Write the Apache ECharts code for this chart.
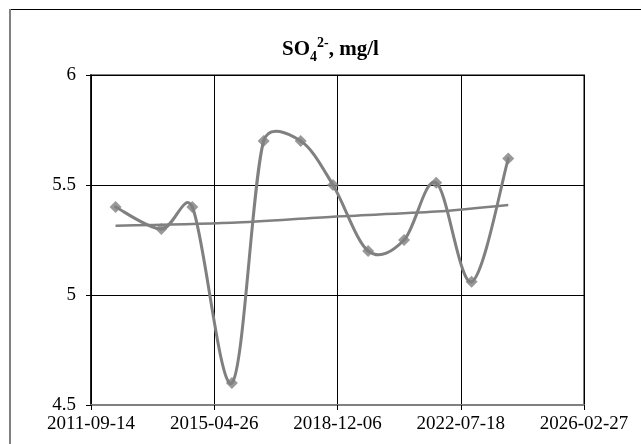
<!DOCTYPE html>
<html>
<head>
<meta charset="utf-8">
<script src="https://cdn.jsdelivr.net/npm/echarts@6/dist/echarts.min.js"></script>
<style>
html,body{margin:0;padding:0;background:#fff;}
#chart{width:641px;height:444px;}
</style>
</head>
<body>
<div id="chart"></div>
<script>
// Sample dates and SO4 2- concentrations (mg/l)
var sampleDates = ['2012-06-03','2013-10-06','2014-09-03','2015-11-01','2016-10-06','2017-11-07',
                   '2018-10-19','2019-10-30','2020-11-18','2021-10-28','2022-11-11','2023-12-09'];
var so4Values = [5.40, 5.30, 5.40, 4.60, 5.70, 5.70, 5.50, 5.20, 5.25, 5.51, 5.06, 5.62];
// Trend line
var trendDates = ['2012-06-03','2015-11-01','2018-10-19','2021-10-28','2023-12-09'];
var trendValues = [5.315, 5.328, 5.356, 5.379, 5.409];
// Axis
var axisStart = '2011-09-14';
var axisTickDays = 1320;
var axisTickCount = 4;
var yTicks = [4.5, 5, 5.5, 6];

var DAY = 86400000;
function toMs(s){ var p = s.split('-'); return Date.UTC(+p[0], +p[1]-1, +p[2]); }
var base = toMs(axisStart);
function toOffset(s){ return Math.round((toMs(s) - base) / DAY); }
function fmt(off){
  var d = new Date(base + off * DAY);
  var m = d.getUTCMonth()+1, dd = d.getUTCDate();
  return d.getUTCFullYear() + '-' + (m<10?'0':'') + m + '-' + (dd<10?'0':'') + dd;
}
var mainData = sampleDates.map(function(d,i){ return [toOffset(d), so4Values[i]]; });
var trendData = trendDates.map(function(d,i){ return [toOffset(d), trendValues[i]]; });

// Excel-like smoothed segment (Bezier with 1/6 tangents, limited by segment length)
function clampVec(v, maxLen){
  var L = Math.sqrt(v[0]*v[0] + v[1]*v[1]);
  if (L > maxLen && L > 0) { var s = maxLen / L; return [v[0]*s, v[1]*s]; }
  return v;
}
function segmentRender(params, api){
  var i = params.dataIndex;
  if (i >= mainData.length - 1) return null;
  var P = function(k){
    k = Math.max(0, Math.min(mainData.length - 1, k));
    return api.coord(mainData[k]);
  };
  var p0 = P(i-1), p1 = P(i), p2 = P(i+1), p3 = P(i+2);
  var seg = Math.sqrt(Math.pow(p2[0]-p1[0],2) + Math.pow(p2[1]-p1[1],2));
  var t1 = clampVec([(p2[0]-p0[0])/6, (p2[1]-p0[1])/6], seg*0.5);
  var t2 = clampVec([(p3[0]-p1[0])/6, (p3[1]-p1[1])/6], seg*0.5);
  return {
    type: 'bezierCurve',
    shape: {x1: p1[0], y1: p1[1], x2: p2[0], y2: p2[1],
            cpx1: p1[0]+t1[0], cpy1: p1[1]+t1[1], cpx2: p2[0]-t2[0], cpy2: p2[1]-t2[1]},
    style: {stroke: '#808080', lineWidth: 3, fill: null, lineCap: 'round'}
  };
}

var chart = echarts.init(document.getElementById('chart'), null, {renderer:'canvas'});
var serif = '"Liberation Serif", "Times New Roman", serif';
chart.setOption({
  animation: false,
  backgroundColor: '#fff',
  title: {
    text: '{m|SO}{sub|4}{sup|2-}{m|, mg/l}',
    left: 277, top: 31,
    textStyle: {
      rich: {
        m: {fontFamily: serif, fontWeight: 'bold', fontSize: 21, color: '#000', lineHeight: 28, verticalAlign: 'middle'},
        sub: {fontFamily: serif, fontWeight: 'bold', fontSize: 14, color: '#000', lineHeight: 14, verticalAlign: 'bottom'},
        sup: {fontFamily: serif, fontWeight: 'bold', fontSize: 14, color: '#000', lineHeight: 14, verticalAlign: 'top'}
      }
    }
  },
  graphic: [
    {type: 'line', shape: {x1: 9, y1: 9.5, x2: 641, y2: 9.5}, style: {stroke: '#000', lineWidth: 1}, z: 10},
    {type: 'line', shape: {x1: 10, y1: 9, x2: 10, y2: 444}, style: {stroke: '#808080', lineWidth: 2}, z: 10}
  ],
  grid: {left: 91, top: 75, width: 493, height: 330, show: true, borderColor: '#808080', borderWidth: 2, containLabel: false},
  xAxis: {
    type: 'value', min: 0, max: axisTickDays * axisTickCount, interval: axisTickDays,
    axisLine: {show: true, lineStyle: {color: '#808080', width: 2}},
    axisTick: {show: true, inside: false, length: 5, lineStyle: {color: '#000', width: 1}},
    splitLine: {show: true, lineStyle: {color: '#000', width: 1}},
    axisLabel: {fontFamily: serif, fontSize: 19, color: '#000', margin: 10, formatter: function(v){ return fmt(v); }, showMinLabel: true, showMaxLabel: true}
  },
  yAxis: {
    type: 'value', min: yTicks[0], max: yTicks[yTicks.length-1], interval: 0.5,
    axisLine: {show: true, lineStyle: {color: '#000', width: 1.5}},
    axisTick: {show: true, inside: false, length: 5, lineStyle: {color: '#000', width: 1}},
    splitLine: {show: true, lineStyle: {color: '#000', width: 1}},
    axisLabel: {fontFamily: serif, fontSize: 19, color: '#000', margin: 15, formatter: function(v){ return String(v); }}
  },
  series: [
    {
      type: 'custom', data: mainData, renderItem: segmentRender,
      encode: {x: 0, y: 1}, clip: true, z: 3, silent: true
    },
    {
      type: 'scatter', data: mainData,
      symbol: 'diamond', symbolSize: 12,
      itemStyle: {color: '#808080'}, z: 4
    },
    {
      type: 'line', data: trendData, smooth: 0.3, symbol: 'none',
      lineStyle: {color: '#808080', width: 2.5}, z: 2
    }
  ]
});
</script>
</body>
</html>
